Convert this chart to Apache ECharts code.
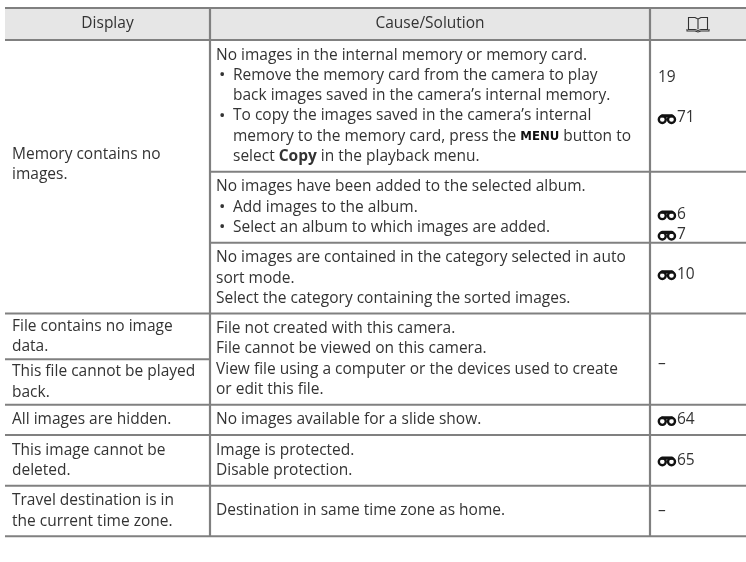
<!DOCTYPE html>
<html><head><meta charset="utf-8">
<script src="https://cdn.jsdelivr.net/npm/echarts@6/dist/echarts.min.js"></script>
<style>html,body{margin:0;padding:0;background:#fff}#c{width:746px;height:562px}</style>
</head><body><div id="c"></div>
<script>
// ---- table content ----
const headers = ['Display', 'Cause/Solution', '{book}'];
const displayCells = [
  ['Memory contains no', 'images.'],
  ['File contains no image', 'data.'],
  ['This file cannot be played', 'back.'],
  ['All images are hidden.'],
  ['This image cannot be', 'deleted.'],
  ['Travel destination is in', 'the current time zone.']
];
// how many cause blocks each display cell spans
const displaySpan = [3, 0.5, 0.5, 1, 1, 1];
const causeCells = [
  ['No images in the internal memory or memory card.',
   '• Remove the memory card from the camera to play',
   '  back images saved in the camera’s internal memory.',
   '• To copy the images saved in the camera’s internal',
   '  memory to the memory card, press the {m|MENU} button to',
   '  select {b|Copy} in the playback menu.'],
  ['No images have been added to the selected album.',
   '• Add images to the album.',
   '• Select an album to which images are added.'],
  ['No images are contained in the category selected in auto',
   'sort mode.',
   'Select the category containing the sorted images.'],
  ['File not created with this camera.',
   'File cannot be viewed on this camera.',
   'View file using a computer or the devices used to create',
   'or edit this file.'],
  ['No images available for a slide show.'],
  ['Image is protected.', 'Disable protection.'],
  ['Destination in same time zone as home.']
];
// '@' marks the reference (binoculars) icon; '' = empty line
const refCells = [
  ['', '19', '', '@71', '', ''],
  ['', '@6', '@7'],
  ['', '@10', ''],
  ['–'],
  ['@64'],
  ['@65'],
  ['–']
];

// ---- layout ----
const FONT = 'Open Sans';
const FS = 15.5;
const L = 20.3, PAD = 10, HEAD = 32;
const colEdges = [0, 205, 645, 741];
const TXT = '#333333', RULE = '#808080';
const dispShift = [-12, 0, 0, 0, 0, 0];
const refShift = [2, 7, -4, 4, 0, 0, 0];

// lines per block = max(cause lines, single-block display lines)
const blockLines = causeCells.map(c => c.length);
{
  let a = 0;
  displayCells.forEach((d, i) => {
    if (displaySpan[i] === 1) blockLines[a] = Math.max(blockLines[a], d.length);
    a += displaySpan[i];
  });
}

const cells = [];
headers.forEach((h, i) => cells.push({kind: 'head', col: i, x0: colEdges[i], x1: colEdges[i + 1], y0: 0, y1: HEAD, lines: [h], shift: 0}));
let y = HEAD;
const blocks = [];
causeCells.forEach((c, i) => {
  const h = blockLines[i] * L + PAD;
  blocks.push([y, y + h]);
  cells.push({kind: 'cause', col: 1, x0: colEdges[1], x1: colEdges[2], y0: y, y1: y + h, lines: c, shift: 0});
  cells.push({kind: 'ref', col: 2, x0: colEdges[2], x1: colEdges[3], y0: y, y1: y + h, lines: refCells[i], shift: refShift[i]});
  y += h;
});
const totalH = y;
function blockPos(b) {
  const i = Math.floor(b);
  if (i >= blocks.length) return totalH;
  return blocks[i][0] + (blocks[i][1] - blocks[i][0]) * (b - i);
}
{
  let a = 0;
  displayCells.forEach((d, i) => {
    const y0 = blockPos(a), y1 = blockPos(a + displaySpan[i]);
    a += displaySpan[i];
    cells.push({kind: 'disp', col: 0, x0: colEdges[0], x1: colEdges[1], y0: y0, y1: y1, lines: d, shift: dispShift[i]});
  });
}

const rich = {
  b: {fontFamily: FONT, fontWeight: 'bold', fontSize: FS, fill: TXT},
  m: {fontFamily: '"Liberation Sans Narrow", "DejaVu Sans Condensed", sans-serif', fontWeight: 'bold', fontSize: 13, fill: '#111'}
};

function textEl(str, x, yc, align, size) {
  return {type: 'text', style: {text: str, x: x, y: yc, fill: TXT, fontFamily: FONT, fontSize: size || FS,
    verticalAlign: 'middle', align: align || 'left', rich: rich}};
}
function binoc(x, yc) {
  return [
    {type: 'circle', shape: {cx: x + 4.3, cy: yc + 1.4, r: 3.5}, style: {fill: 'none', stroke: '#111', lineWidth: 2.4}},
    {type: 'circle', shape: {cx: x + 13.5, cy: yc + 1.4, r: 3.5}, style: {fill: 'none', stroke: '#111', lineWidth: 2.4}},
    {type: 'rect', shape: {x: x + 2.5, y: yc - 3.8, width: 13, height: 3.2, r: 1.5}, style: {fill: '#111'}}
  ];
}
function book(cx, cy) {
  return [
    {type: 'polyline', shape: {points: [[cx, cy + 5], [cx, cy - 5], [cx - 3, cy - 6.5], [cx - 9.5, cy - 6.5], [cx - 9.5, cy + 5.5], [cx - 3, cy + 5.5], [cx, cy + 6.5], [cx + 3, cy + 5.5], [cx + 9.5, cy + 5.5], [cx + 9.5, cy - 6.5], [cx + 3, cy - 6.5], [cx, cy - 5]]},
      style: {fill: 'none', stroke: '#333', lineWidth: 1.1}},
    {type: 'polyline', shape: {points: [[cx - 11, cy + 5], [cx - 11, cy + 7], [cx - 3, cy + 7], [cx, cy + 8], [cx + 3, cy + 7], [cx + 11, cy + 7], [cx + 11, cy + 5]]},
      style: {fill: 'none', stroke: '#333', lineWidth: 1.1}}
  ];
}

function renderItem(params, api) {
  const c = cells[api.value(0)];
  const p0 = api.coord([c.x0, c.y0]);
  const p1 = api.coord([c.x1, c.y1]);
  const ch = [];
  if (c.kind === 'head') {
    ch.push({type: 'rect', shape: {x: p0[0], y: p0[1], width: p1[0] - p0[0], height: p1[1] - p0[1]}, style: {fill: '#e6e6e6'}});
    ch.push({type: 'line', shape: {x1: p0[0], y1: p0[1], x2: p1[0], y2: p0[1]}, style: {stroke: RULE, lineWidth: 2}});
  }
  ch.push({type: 'line', shape: {x1: p0[0], y1: p1[1], x2: p1[0], y2: p1[1]}, style: {stroke: RULE, lineWidth: 2}});
  const n = c.lines.length;
  const cy = (p0[1] + p1[1]) / 2 + c.shift;
  c.lines.forEach((s, k) => {
    const yc = cy + (k - (n - 1) / 2) * L;
    if (c.kind === 'head') {
      const cx = (p0[0] + p1[0]) / 2;
      if (s === '{book}') ch.push.apply(ch, book(cx, yc));
      else ch.push(textEl(s, cx, yc, 'center'));
    } else if (c.kind === 'cause') {
      if (s.startsWith('• ')) {
        ch.push(textEl('•', p0[0] + 9, yc, 'left', 17));
        ch.push(textEl(s.slice(2), p0[0] + 23, yc));
      } else if (s.startsWith('  ')) {
        ch.push(textEl(s.slice(2), p0[0] + 23, yc));
      } else ch.push(textEl(s, p0[0] + 6, yc));
    } else if (c.kind === 'ref') {
      if (s.startsWith('@')) {
        ch.push.apply(ch, binoc(p0[0] + 8, yc));
        ch.push(textEl(s.slice(1), p0[0] + 27, yc));
      } else if (s) ch.push(textEl(s, p0[0] + 8, yc));
    } else {
      ch.push(textEl(s, p0[0] + 7, yc));
    }
  });
  return {type: 'group', children: ch};
}
function dividers(params, api) {
  const x = api.value(0);
  const a = api.coord([x, 0]), b = api.coord([x, totalH]);
  return {type: 'line', shape: {x1: a[0], y1: a[1], x2: b[0], y2: b[1]}, style: {stroke: RULE, lineWidth: 2.2}};
}

const chart = echarts.init(document.getElementById('c'), null, {renderer: 'canvas'});
chart.setOption({
  animation: false,
  grid: {left: 5, top: 8, width: 741, height: totalH},
  xAxis: {type: 'value', min: 0, max: 741, show: false},
  yAxis: {type: 'value', min: 0, max: totalH, inverse: true, show: false},
  series: [
    {type: 'custom', renderItem: renderItem, data: cells.map((c, i) => [i]), silent: true, z: 2},
    {type: 'custom', renderItem: dividers, data: [[colEdges[1]], [colEdges[2]]], silent: true, z: 3}
  ]
});
</script></body></html>
